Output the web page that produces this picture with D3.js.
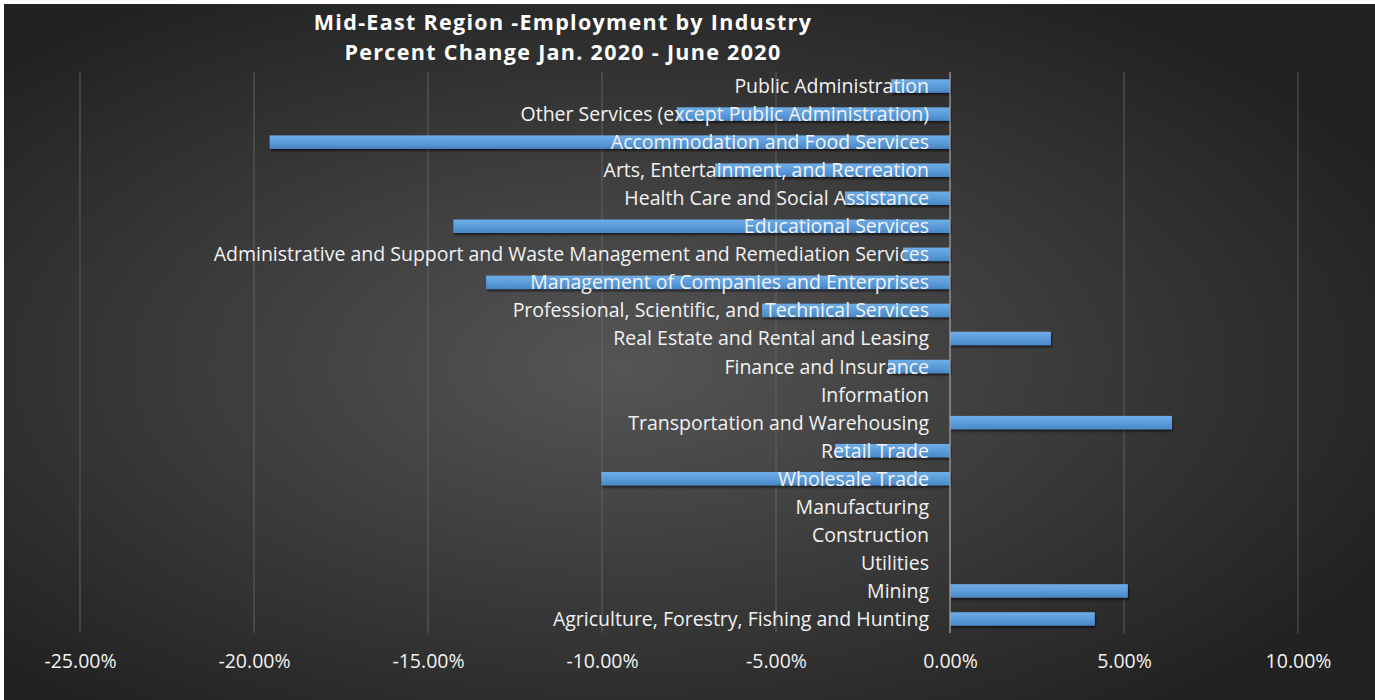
<!DOCTYPE html>
<html>
<head>
<meta charset="utf-8">
<script src="https://cdn.jsdelivr.net/npm/d3@7"></script>
<style>
  html, body { margin: 0; padding: 0; background: #ffffff; }
  svg { display: block; }
</style>
</head>
<body>
<svg id="chart" width="1375" height="700"></svg>
<script>
// ---- Data ----
const categories = [
  "Public Administration",
  "Other Services (except Public Administration)",
  "Accommodation and Food Services",
  "Arts, Entertainment, and Recreation",
  "Health Care and Social Assistance",
  "Educational Services",
  "Administrative and Support and Waste Management and Remediation Services",
  "Management of Companies and Enterprises",
  "Professional, Scientific, and Technical Services",
  "Real Estate and Rental and Leasing",
  "Finance and Insurance",
  "Information",
  "Transportation and Warehousing",
  "Retail Trade",
  "Wholesale Trade",
  "Manufacturing",
  "Construction",
  "Utilities",
  "Mining",
  "Agriculture, Forestry, Fishing and Hunting"
];
const percentChange = [
  -1.69, -7.85, -19.55, -6.75, -3.02, -14.27, -1.35, -13.33, -5.40, 2.90,
  -1.78, 0, 6.38, -3.30, -10.02, 0, 0, 0, 5.11, 4.16
];
const tickValues = [-25, -20, -15, -10, -5, 0, 5, 10];
const titleLines = ["Mid-East Region -Employment by Industry", "Percent Change Jan. 2020 - June 2020"];

// ---- Layout ----
const svg = d3.select("#chart");
const W = 1375, H = 700;
const defs = svg.append("defs");

const bg = defs.append("radialGradient").attr("id", "bg")
  .attr("cx", "45%").attr("cy", "52%").attr("r", "62%");
bg.append("stop").attr("offset", "0%").attr("stop-color", "#555555");
bg.append("stop").attr("offset", "100%").attr("stop-color", "#222222");

const barGrad = defs.append("linearGradient").attr("id", "barGrad")
  .attr("x1", 0).attr("y1", 0).attr("x2", 0).attr("y2", 1);
barGrad.append("stop").attr("offset", "0%").attr("stop-color", "#70ade8");
barGrad.append("stop").attr("offset", "50%").attr("stop-color", "#5c9cda");
barGrad.append("stop").attr("offset", "100%").attr("stop-color", "#4a87c6");

const shadow = defs.append("filter").attr("id", "shadow")
  .attr("x", "-5%").attr("y", "-30%").attr("width", "110%").attr("height", "180%");
shadow.append("feDropShadow").attr("dx", 1).attr("dy", 2).attr("stdDeviation", 1.2)
  .attr("flood-color", "#000").attr("flood-opacity", 0.6);

svg.append("rect").attr("x", 4).attr("y", 4).attr("width", W - 4).attr("height", H - 4)
  .attr("fill", "url(#bg)");

const x = d3.scaleLinear().domain([-25, 10]).range([80, 1298]);
const y = d3.scaleBand().domain(categories).range([72, 633]).paddingInner(0.52).paddingOuter(0.26);

// gridlines
const grid = svg.append("g");
grid.selectAll("line").data(tickValues.filter(d => d !== 0)).join("line")
  .attr("x1", d => x(d)).attr("x2", d => x(d))
  .attr("y1", 72).attr("y2", 633)
  .attr("stroke", "#6a6a6a").attr("stroke-width", 1).attr("opacity", 0.8);

// bars
svg.append("g").selectAll("rect").data(categories).join("rect")
  .attr("x", (d, i) => Math.min(x(0), x(percentChange[i])))
  .attr("width", (d, i) => Math.abs(x(percentChange[i]) - x(0)))
  .attr("y", d => y(d))
  .attr("height", y.bandwidth())
  .attr("fill", "url(#barGrad)")
  .attr("filter", "url(#shadow)")
  .style("display", (d, i) => percentChange[i] === 0 ? "none" : null);

// zero axis line
svg.append("line").attr("x1", x(0)).attr("x2", x(0)).attr("y1", 72).attr("y2", 633)
  .attr("stroke", "#a8a8a8").attr("stroke-width", 1.2);

// category labels
const font = "'Open Sans', Lato, sans-serif";
svg.append("g").selectAll("text").data(categories).join("text")
  .attr("x", x(0) - 21)
  .attr("y", d => y(d) + y.bandwidth() / 2)
  .attr("dy", "0.36em")
  .attr("text-anchor", "end")
  .attr("fill", "#f2f2f2")
  .style("font-family", font)
  .style("font-size", "19.5px")
  .text(d => d);

// x axis
const xAxis = d3.axisBottom(x).tickValues(tickValues).tickSize(0)
  .tickFormat(d => d3.format(".2f")(d).replace("\u2212", "-") + "%");
const ax = svg.append("g").attr("transform", "translate(0,651)").call(xAxis);
ax.select(".domain").remove();
ax.selectAll("text").attr("fill", "#f2f2f2")
  .style("font-family", font).style("font-size", "19.5px");

// title
svg.append("g").selectAll("text").data(titleLines).join("text")
  .attr("x", 563).attr("y", (d, i) => 30 + i * 30)
  .attr("text-anchor", "middle")
  .attr("fill", "#ffffff")
  .style("font-family", font)
  .style("font-weight", "bold")
  .style("font-size", "21.5px")
  .style("letter-spacing", "1.3px")
  .text(d => d);
</script>
</body>
</html>
